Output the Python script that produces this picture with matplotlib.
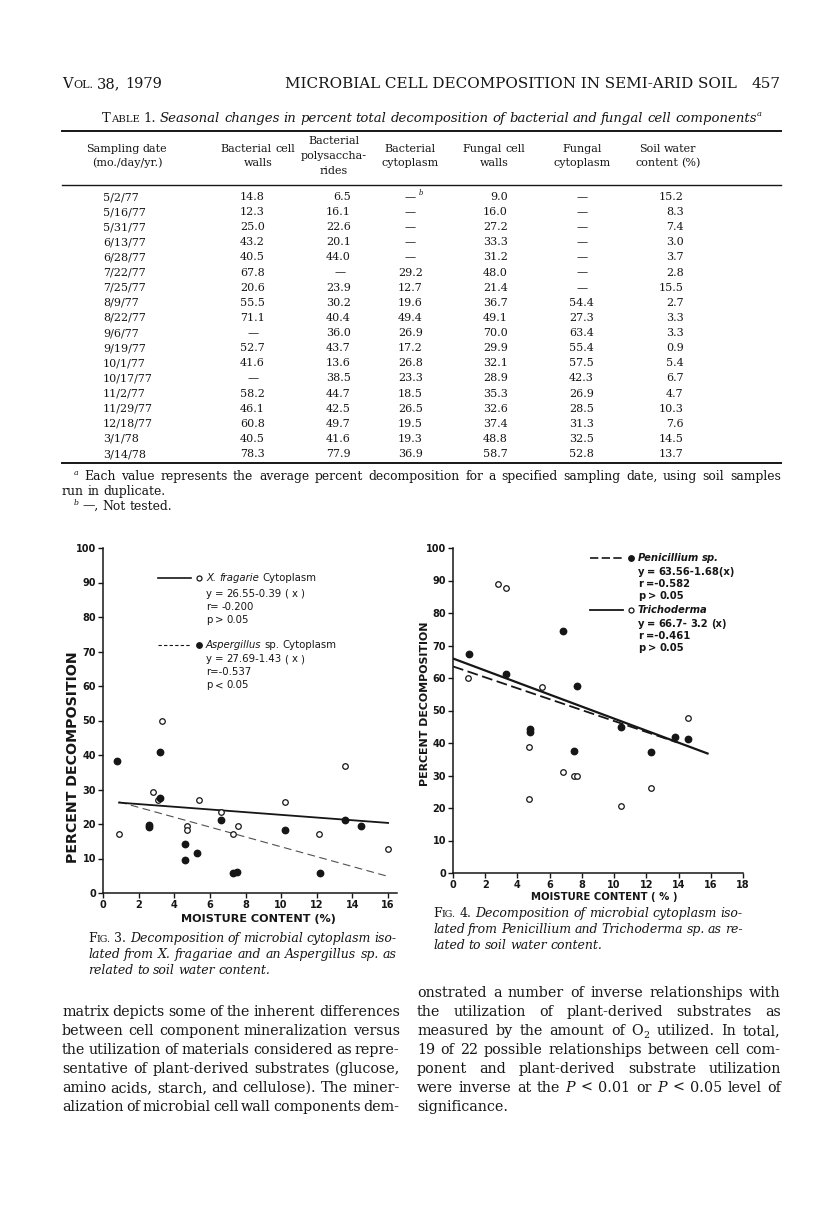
import re
import numpy as np
import matplotlib
matplotlib.use("Agg")
import matplotlib.pyplot as plt
from matplotlib.lines import Line2D
from matplotlib.transforms import IdentityTransform

W, H = 816, 1215
INK = "#161616"
SERIF = "DejaVu Serif"
SANS = "DejaVu Sans"

# ---------------- Table 1 ----------------
dates = ["5/2/77", "5/16/77", "5/31/77", "6/13/77", "6/28/77", "7/22/77", "7/25/77",
         "8/9/77", "8/22/77", "9/6/77", "9/19/77", "10/1/77", "10/17/77", "11/2/77",
         "11/29/77", "12/18/77", "3/1/78", "3/14/78"]
bact_walls = [14.8, 12.3, 25.0, 43.2, 40.5, 67.8, 20.6, 55.5, 71.1, None, 52.7, 41.6,
              None, 58.2, 46.1, 60.8, 40.5, 78.3]
bact_poly = [6.5, 16.1, 22.6, 20.1, 44.0, None, 23.9, 30.2, 40.4, 36.0, 43.7, 13.6,
             38.5, 44.7, 42.5, 49.7, 41.6, 77.9]
bact_cyto = [None, None, None, None, None, 29.2, 12.7, 19.6, 49.4, 26.9, 17.2, 26.8,
             23.3, 18.5, 26.5, 19.5, 19.3, 36.9]
fung_walls = [9.0, 16.0, 27.2, 33.3, 31.2, 48.0, 21.4, 36.7, 49.1, 70.0, 29.9, 32.1,
              28.9, 35.3, 32.6, 37.4, 48.8, 58.7]
fung_cyto = [None, None, None, None, None, None, None, 54.4, 27.3, 63.4, 55.4, 57.5,
             42.3, 26.9, 28.5, 31.3, 32.5, 52.8]
soil_water = [15.2, 8.3, 7.4, 3.0, 3.7, 2.8, 15.5, 2.7, 3.3, 3.3, 0.9, 5.4, 6.7, 4.7,
              10.3, 7.6, 14.5, 13.7]
col_heads = [["Sampling date", "(mo./day/yr.)"], ["Bacterial cell", "walls"],
             ["Bacterial", "polysaccha-", "rides"], ["Bacterial", "cytoplasm"],
             ["Fungal cell", "walls"], ["Fungal", "cytoplasm"], ["Soil water", "content (%)"]]
foot_a = ("^a^ Each value represents the average percent decomposition for a specified "
          "sampling date, using soil samples")

# ---------------- Fig. 3 ----------------
xfrag_x = [0.9, 2.8, 3.3, 3.1, 4.7, 4.7, 5.4, 6.6, 7.3, 7.6, 10.2, 12.1, 13.6, 16.0]
xfrag_y = [17.1, 29.3, 49.8, 26.9, 19.4, 18.3, 27.0, 23.5, 17.2, 19.5, 26.5, 17.1, 36.7, 12.7]
asp_x = [0.8, 2.6, 2.6, 3.2, 3.2, 4.6, 4.6, 5.3, 6.6, 7.3, 7.5, 10.2, 12.2, 13.6, 14.5]
asp_y = [38.3, 19.0, 19.6, 40.8, 27.4, 14.2, 9.7, 11.6, 21.3, 5.8, 6.1, 18.2, 5.8, 21.3, 19.5]
xfrag_fit = (26.55, -0.39, 0.9, 16.0)   # intercept, slope, x from, x to
asp_fit = (27.69, -1.43, 0.9, 16.0)

# ---------------- Fig. 4 ----------------
pen_x = [1.0, 3.3, 4.75, 4.75, 6.8, 7.5, 7.7, 10.4, 12.3, 13.8, 14.6]
pen_y = [67.4, 61.1, 44.4, 43.3, 74.5, 37.6, 57.5, 44.8, 37.2, 41.9, 41.2]
tri_x = [0.95, 2.8, 3.3, 4.73, 4.73, 5.5, 6.8, 7.5, 7.7, 10.4, 12.3, 14.6]
tri_y = [60.1, 88.9, 87.7, 38.9, 22.7, 57.2, 31.0, 29.8, 29.8, 20.7, 26.1, 47.6]
pen_fit = (63.56, -1.68, 0.0, 13.9)
tri_fit = (66.0, -1.85, 0.0, 15.8)

# ---------------- body text ----------------
left_col = ["matrix depicts some of the inherent differences",
            "between cell component mineralization versus",
            "the utilization of materials considered as repre-",
            "sentative of plant-derived substrates (glucose,",
            "amino acids, starch, and cellulose). The miner-",
            "alization of microbial cell wall components dem-"]
right_col = ["onstrated a number of inverse relationships with",
             "the utilization of plant-derived substrates as",
             "measured by the amount of O_2_ utilized. In total,",
             "19 of 22 possible relationships between cell com-",
             "ponent and plant-derived substrate utilization",
             "were inverse at the *P* < 0.01 or *P* < 0.05 level of",
             "significance."]
cap3 = ["!F!~ig.~ !3.! Decomposition of microbial cytoplasm iso-",
        "lated from X. fragariae and an Aspergillus sp. as",
        "related to soil water content."]
cap4 = ["!F!~ig.~ !4.! Decomposition of microbial cytoplasm iso-",
        "lated from Penicillium and Trichoderma sp. as re-",
        "lated to soil water content."]

fig = plt.figure(figsize=(W / 100, H / 100), dpi=100)
fig.patch.set_facecolor("white")
R = fig.canvas.get_renderer()
ID = IdentityTransform()
PX = 100 / 72
SP = 0.27  # word space, em

TOK = re.compile(r"\*[^*]+\*|\^[^^]+\^|_[^_]+_|~[^~]+~|![^!]+!|[^*^_~!]+")


def pieces(s, size, style):
    out = []
    for m in TOK.findall(s):
        kw = dict(fontsize=size, style=style)
        dy = 0
        c = m[0]
        if c in "*^_~!":
            m = m[1:-1]
            if c == "*":
                kw["style"] = "italic"
            elif c == "!":
                kw["style"] = "normal"
            elif c == "^":
                kw.update(fontsize=size * 0.62, style="italic")
                dy = size * PX * 0.42
            elif c == "_":
                kw.update(fontsize=size * 0.65)
                dy = -size * PX * 0.2
            elif c == "~":
                kw.update(fontsize=size * 0.76, style="normal")
                m = m.upper()
        out.append((m, kw, dy))
    return out


def word(s, y, size, style, family, weight):
    parts = []
    for m, kw, dy in pieces(s, size, style):
        t = fig.text(0, H - y + dy, m, transform=ID, family=family, weight=weight,
                     va="baseline", color=INK, **kw)
        parts.append((t, t.get_window_extent(R).width + size * PX * 0.02))
    return parts


def natural(s, size, style="normal", family=SERIF, weight="normal"):
    words = [word(w, 0, size, style, family, weight) for w in s.split()]
    L = sum(w for wd in words for _, w in wd)
    for wd in words:
        for t, _ in wd:
            t.remove()
    return L, len(words) - 1


def ideal(s, width, style="normal", s0=10.0):
    L, n = natural(s, s0, style)
    return width / (L / s0 + n * SP * PX)


def line(s, x, y, size, align="left", x1=None, style="normal", family=SERIF, weight="normal"):
    words = [word(w, y, size, style, family, weight) for w in s.split()]
    widths = [sum(w for _, w in wd) for wd in words]
    gap = SP * size * PX
    if align == "justify" and len(words) > 1:
        gap = (x1 - x - sum(widths)) / (len(words) - 1)
    total = sum(widths) + gap * (len(words) - 1)
    if align == "center":
        x -= total / 2
    elif align == "right":
        x -= total
    for wd in words:
        for t, w in wd:
            t.set_x(x)
            x += w
        x += gap
    return total


def block(lines, x0, x1, y0, dy, size, style="normal", last_left=False):
    for k, s in enumerate(lines):
        y = y0 + dy * k
        if last_left and k == len(lines) - 1:
            line(s, x0, y, size, style=style)
            continue
        L, n = natural(s, size, style)
        sz = size
        if n and (x1 - x0 - L) / n < 0.12 * size * PX:
            sz = (x1 - x0) / (L / size + n * 0.12 * PX)
        line(s, x0, y, sz, align="justify", x1=x1, style=style)


def fit_text(x, y, s, target, size0=10, rotation=0, **kw):
    t = fig.text(x, H - y, s, transform=ID, fontsize=size0, color=INK, **kw)
    w = t.get_window_extent(R).width
    t.set_fontsize(size0 * target / w)
    t.set_rotation(rotation)
    return t


def hrule(x0, x1, y, lw):
    fig.add_artist(Line2D([x0, x1], [H - y, H - y], transform=ID, color=INK, lw=lw))


def key(x0, x1, y, ls, lw, marker_x, filled):
    fig.add_artist(Line2D([x0, x1], [H - y, H - y], transform=ID, color=INK, lw=lw, ls=ls))
    fig.add_artist(Line2D([marker_x], [H - y], transform=ID, marker="o", ms=4 if filled else 3.6,
                          mfc=INK if filled else "white", mec=INK, mew=0.9, ls="none"))


# ---------------- running head ----------------
line("V~ol.~ 38, 1979", 62, 88, 10.5)
fit_text(737, 88, "MICROBIAL CELL DECOMPOSITION IN SEMI-ARID SOIL", 449, family=SERIF,
         ha="right", va="baseline")
line("457", 781, 88, 11, align="right")

# ---------------- table ----------------
title = ("!T!~able~ !1.! Seasonal changes in percent total decomposition of bacterial and fungal "
         "cell components^a^")
line(title, 432, 122, ideal(title, 660, "italic"), align="center", style="italic")
hrule(62, 781, 131, 1.4)

TS = 8.0
col_mid = [127, 258, 334, 410, 494, 582, 668]
for cx, head in zip(col_mid, col_heads):
    ys = [144, 159, 174] if len(head) == 3 else [151.5, 166.5]
    for yy, s in zip(ys, head):
        line(s, cx, yy, TS, align="center")
hrule(62, 781, 185, 1.0)

num_right = [265, 351, 423, 508, 594, 684]
dash_mid = [253, 340, 410, 496, 582, 672]
cols = [bact_walls, bact_poly, bact_cyto, fung_walls, fung_cyto, soil_water]
for i, d in enumerate(dates):
    y = 200 + i * 15.12
    line(d, 103, y, TS)
    for j, col in enumerate(cols):
        v = col[i]
        if v is None:
            line("—", dash_mid[j], y, TS, align="center")
            if i == 0 and j == 2:
                line("^b^", dash_mid[j] + 9, y, TS)
        else:
            line(f"{v:.1f}", num_right[j], y, TS, align="right")
hrule(62, 781, 463, 1.4)
FS = ideal(foot_a, 707) * 0.97
line(foot_a, 74, 480, FS, align="justify", x1=781)
line("run in duplicate.", 62, 495, FS)
line("^b^ —, Not tested.", 74, 510, FS)


# ---------------- figures ----------------
def axes_px(x0, x1, y0, y1):
    return fig.add_axes([x0 / W, (H - y1) / H, (x1 - x0) / W, (y1 - y0) / H])


def style_axes(ax, xmax, xticks):
    ax.set_xlim(0, xmax)
    ax.set_ylim(0, 100)
    for s in ("top", "right"):
        ax.spines[s].set_visible(False)
    for s in ("left", "bottom"):
        ax.spines[s].set_linewidth(1.1)
        ax.spines[s].set_color(INK)
    ax.set_xticks(xticks)
    ax.set_yticks(range(0, 101, 10))
    ax.tick_params(direction="out", length=3.5, width=1, colors=INK, labelsize=7, pad=1.5)
    for lab in ax.get_xticklabels() + ax.get_yticklabels():
        lab.set_family(SANS)
        lab.set_weight("bold")
    ax.patch.set_alpha(0)


def fit_line(ax, fit, **kw):
    a, b, x0, x1 = fit
    xs = np.array([x0, x1])
    ax.plot(xs, a + b * xs, color=INK, **kw)


# Fig. 3
ax3 = axes_px(103, 397, 548, 893)
style_axes(ax3, 16.5, range(0, 17, 2))
fit_line(ax3, xfrag_fit, lw=1.3)
fit_line(ax3, asp_fit, lw=0.8, dashes=(7, 4), alpha=0.75)
ax3.plot(xfrag_x, xfrag_y, "o", ms=4, mfc="white", mec=INK, mew=0.9, clip_on=False)
ax3.plot(asp_x, asp_y, "o", ms=4.6, mfc=INK, mec=INK, clip_on=False)

key(158, 191, 578, "-", 1.2, 199, False)
line("*X.* *fragarie* Cytoplasm", 206, 581, 7.3, family=SANS)
for yy, s in zip([597, 610, 623], ["y = 26.55-0.39 ( x )", "r= -0.200", "p >  0.05"]):
    line(s, 206, yy, 7.3, family=SANS)
key(158, 191, 645, (0, (3, 2)), 0.8, 199, True)
line("*Aspergillus* sp. Cytoplasm", 206, 648, 7.3, family=SANS)
for yy, s in zip([662, 675, 688], ["y = 27.69-1.43 ( x )", "r=-0.537", "p <  0.05"]):
    line(s, 206, yy, 7.3, family=SANS)

fit_text(73, 757, "PERCENT DECOMPOSITION", 212, family=SANS, weight="bold",
         rotation=90, ha="center", va="center", rotation_mode="anchor")
fit_text(258, 919, "MOISTURE CONTENT (%)", 157, family=SANS, weight="bold",
         ha="center", va="center")

# Fig. 4
ax4 = axes_px(453, 743, 548, 873)
style_axes(ax4, 18, range(0, 19, 2))
fit_line(ax4, tri_fit, lw=1.6)
fit_line(ax4, pen_fit, lw=1.3, dashes=(6, 2.5))
ax4.plot(tri_x, tri_y, "o", ms=4, mfc="white", mec=INK, mew=0.9, clip_on=False)
ax4.plot(pen_x, pen_y, "o", ms=4.6, mfc=INK, mec=INK, clip_on=False)

key(590, 623, 558, (0, (5, 2)), 1.2, 631, True)
line("*Penicillium* *sp.*", 638, 561, 7.2, family=SANS, weight="bold")
for yy, s in zip([575, 587, 599], ["y = 63.56-1.68(x)", "r =-0.582", "p > 0.05"]):
    line(s, 638, yy, 7.2, family=SANS, weight="bold")
key(590, 623, 610, "-", 1.3, 631, False)
line("*Trichoderma*", 638, 613, 7.2, family=SANS, weight="bold")
for yy, s in zip([627, 639, 651], ["y = 66.7- 3.2 (x)", "r =-0.461", "p > 0.05"]):
    line(s, 638, yy, 7.2, family=SANS, weight="bold")

fit_text(425, 704, "PERCENT DECOMPOSITION", 165, family=SANS, weight="bold",
         rotation=90, ha="center", va="center", rotation_mode="anchor")
fit_text(604, 897, "MOISTURE CONTENT ( % )", 148, family=SANS, weight="bold",
         ha="center", va="center")

# ---------------- captions ----------------
CS = float(np.percentile([ideal(s, 309, "italic") for s in cap3[:2] + cap4[:2]], 35))
block(cap3, 88, 397, 942, 16, CS, style="italic", last_left=True)
block(cap4, 433, 743, 917, 16, CS, style="italic", last_left=True)

# ---------------- body text ----------------
BS = float(np.percentile([ideal(s, 338) for s in left_col] +
                         [ideal(s, 364) for s in right_col[:-1]], 35))
block(left_col, 62, 400, 1016, 19, BS)
block(right_col, 417, 781, 997, 19, BS, last_left=True)

fig.savefig("out.png", dpi=100, facecolor="white")
